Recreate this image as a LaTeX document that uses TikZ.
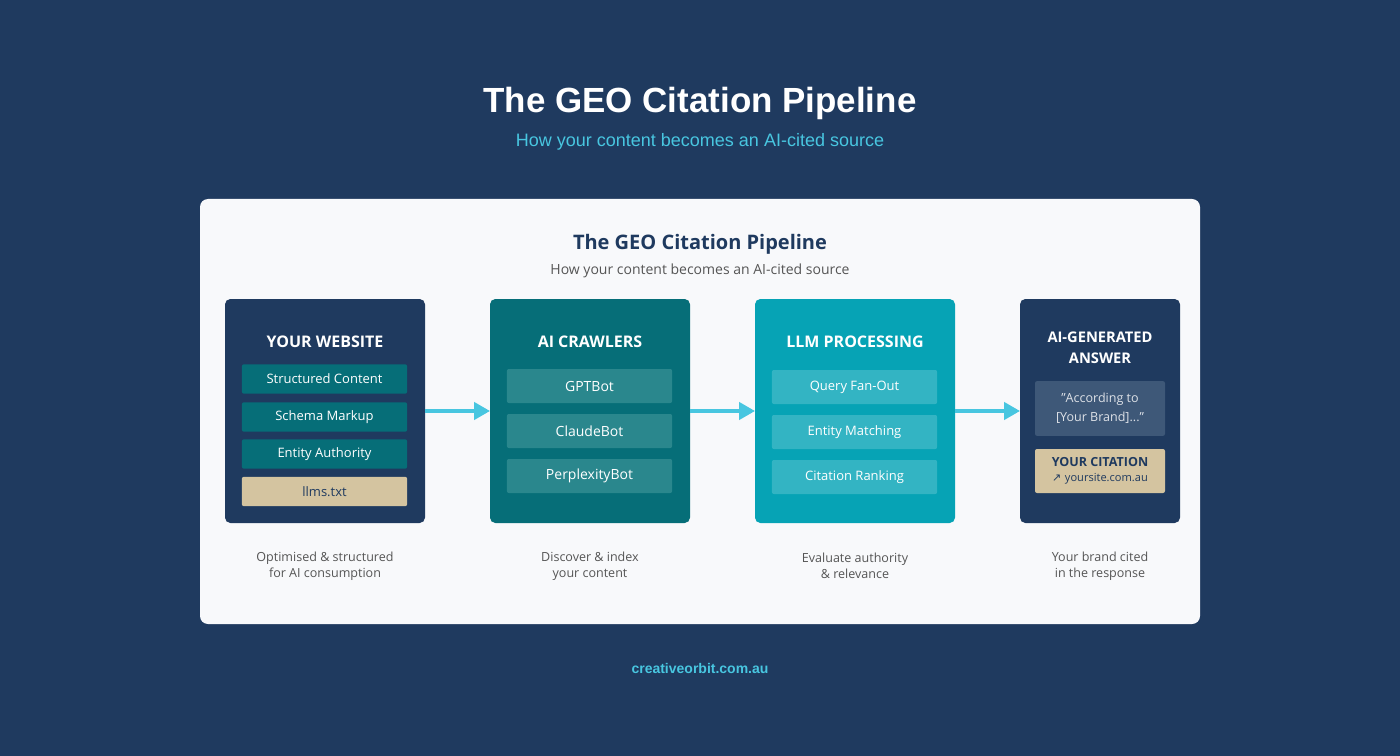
\documentclass[tikz,border=0pt]{standalone}
\usepackage{fontspec}
\setmainfont{Open Sans}
\newfontfamily\arialf{Liberation Sans}
\usetikzlibrary{arrows.meta}
\definecolor{navy}{HTML}{1F3A5F}
\definecolor{cyanc}{HTML}{48C6E0}
\definecolor{cardc}{HTML}{F8F9FB}
\definecolor{teal1}{HTML}{066E78}
\definecolor{tealchip}{HTML}{2A878D}
\definecolor{aqua}{HTML}{06A3B5}
\definecolor{aquachip}{HTML}{33B4C3}
\definecolor{beige}{HTML}{D4C4A0}
\definecolor{quotec}{HTML}{3E5878}
\definecolor{greyt}{HTML}{555555}
\begin{document}
\begin{tikzpicture}[x=0.75pt,y=-0.75pt,
 box/.style={rounded corners=4pt,inner sep=0pt},
 chip/.style={rounded corners=1.5pt,draw=none,minimum width=124pt,text=white,font=\fontsize{9.75}{11}\selectfont,inner sep=0pt},
 btitle/.style={text=white,font=\bfseries\fontsize{12}{14}\selectfont,align=center},
 captxt/.style={text=greyt,font=\fontsize{9.4}{12}\selectfont,align=center},
 arr/.style={cyanc,line width=2.6pt,-{Triangle[length=12pt,width=13pt]}}]
\fill[navy] (0,0) rectangle (1400,756);
\useasboundingbox (0,0) rectangle (1400,756);
\node[text=white,font=\arialf\bfseries\fontsize{26.2}{30}\selectfont] (t) at (700,103) {The GEO Citation Pipeline};
\node[text=cyanc,font=\arialf\fontsize{13.5}{16}\selectfont] (st) at (700,142) {How your content becomes an AI-cited source};
\fill[cardc,rounded corners=6pt] (200,199) rectangle (1200,624);
\node[text=navy,font=\bfseries\fontsize{15}{18}\selectfont] (it) at (700,244) {The GEO Citation Pipeline};
\node[text=greyt,font=\fontsize{10.5}{13}\selectfont] (ist) at (700,271) {How your content becomes an AI-cited source};
% boxes
\fill[navy,box] (225,299) rectangle (425,523);
\fill[teal1,box] (490,299) rectangle (690,523);
\fill[aqua,box] (755,299) rectangle (955,523);
\fill[navy,box] (1020,299) rectangle (1180,523);
\coordinate (b1r) at (425,411); \coordinate (b2l) at (490,411);
\coordinate (b2r) at (690,411); \coordinate (b3l) at (755,411);
\coordinate (b3r) at (955,411); \coordinate (b4l) at (1020,411);
\node[btitle] (h1) at (325,342) {YOUR WEBSITE};
\node[chip,fill=teal1,minimum height=22pt] (c11) at (324.5,379) {\raisebox{-1pt}{Structured Content}};
\node[chip,fill=teal1,minimum height=22pt] (c12) at (324.5,417) {\raisebox{-1pt}{Schema Markup}};
\node[chip,fill=teal1,minimum height=22pt] (c13) at (324.5,454) {\raisebox{-1pt}{Entity Authority}};
\node[chip,fill=beige,text=navy,minimum height=22pt] (c14) at (324.5,491.5) {\raisebox{-1pt}{llms.txt}};
\node[btitle] (h2) at (590,342) {AI CRAWLERS};
\node[chip,fill=tealchip,minimum height=25.5pt,font=\fontsize{10.5}{12}\selectfont] (c21) at (589.5,386) {\raisebox{-1.5pt}{GPTBot}};
\node[chip,fill=tealchip,minimum height=25.5pt,font=\fontsize{10.5}{12}\selectfont] (c22) at (589.5,431) {\raisebox{-1.5pt}{ClaudeBot}};
\node[chip,fill=tealchip,minimum height=25.5pt,font=\fontsize{10.5}{12}\selectfont] (c23) at (589.5,476) {\raisebox{-1.5pt}{PerplexityBot}};
\node[btitle] (h3) at (855,342) {LLM PROCESSING};
\node[chip,fill=aquachip,minimum height=25.5pt] (c31) at (854.5,387) {\raisebox{-1.5pt}{Query Fan-Out}};
\node[chip,fill=aquachip,minimum height=25.5pt] (c32) at (854.5,432) {\raisebox{-1.5pt}{Entity Matching}};
\node[chip,fill=aquachip,minimum height=25.5pt] (c33) at (854.5,477) {\raisebox{-1.5pt}{Citation Ranking}};
\node[btitle,font=\bfseries\fontsize{11}{15.5}\selectfont] (h4) at (1100,348) {AI-GENERATED\\ANSWER};
\node[fill=quotec,rounded corners=1.5pt,minimum width=97.5pt,minimum height=41pt,text=white!85!navy,align=center,font=\fontsize{9.4}{15}\selectfont] (q) at (1100,408.5) {\raisebox{-1pt}{\symbol{34}According to}\\{}[Your Brand]...\symbol{34}};
\node[fill=beige,rounded corners=1.5pt,minimum width=97.5pt,minimum height=33pt,text=navy,align=center,font=\fontsize{9.4}{12}\selectfont] (ct) at (1100,471) {\textbf{YOUR CITATION}\\[-1pt]{\fontsize{8.3}{10}\selectfont\fontspec{DejaVu Sans}↗\ \fontspec{Open Sans}yoursite.com.au}};
\draw[arr] (b1r) -- (b2l);
\draw[arr] (b2r) -- (b3l);
\draw[arr] (b3r) -- (b4l);
\node[captxt] (p1) at (325,566) {Optimised \& structured\\for AI consumption};
\node[captxt] (p2) at (590,566) {Discover \& index\\your content};
\node[captxt] (p3) at (855,566) {Evaluate authority\\\& relevance};
\node[captxt] (p4) at (1100,566) {Your brand cited\\in the response};
\node[text=cyanc,font=\arialf\bfseries\fontsize{10.5}{13}\selectfont] (f) at (700,668) {creativeorbit.com.au};
\end{tikzpicture}
\end{document}
